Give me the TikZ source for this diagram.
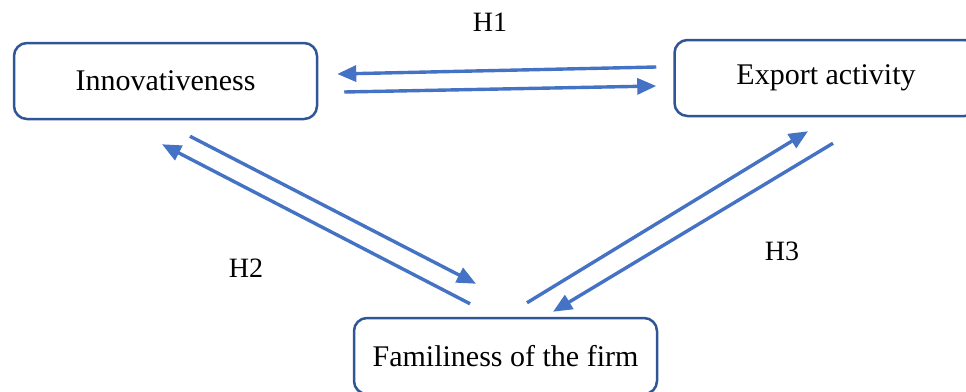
\documentclass[tikz,border=0pt]{standalone}
\usepackage{fontspec}
\setmainfont{Liberation Serif}
\usetikzlibrary{arrows.meta}
\definecolor{boxblue}{HTML}{2F5597}
\definecolor{arrowblue}{HTML}{4472C4}
\begin{document}
\begin{tikzpicture}[x=1pt,y=-1pt,
    box/.style={draw=boxblue,line width=2.5pt,rounded corners=13pt,
      minimum width=303pt,minimum height=76pt,font=\fontsize{30}{32}\selectfont},
    hyp/.style={font=\fontsize{28}{30}\selectfont},
    link/.style={draw=arrowblue,line width=3.4pt,-{Triangle[length=19pt,width=16pt]}}]
      \useasboundingbox (0,0) rectangle (966,391);
      \draw
        (165.5,81) node[box] (inno){Innovativeness}
        (826,78) node[box] (exp){Export activity}
        (505.5,356) node[box] (fam){Familiness of the firm}
        (490,22) node[hyp] (h1){H1}
        (246,268) node[hyp] (h2){H2}
        (782,251) node[hyp] (h3){H3};
      \begin{scope}[link]
        \draw ([shift={(-17,-11)}]exp.west) to ([shift={(19,-7)}]inno.east);
        \draw ([shift={(26,11)}]inno.east) to ([shift={(-17,8)}]exp.west);
        \draw ([shift={(24.5,16)}]inno.south) to ([shift={(-29.5,-33)}]fam.north);
        \draw ([shift={(-35.5,-13)}]fam.north) to ([shift={(-3.5,24)}]inno.south);
        \draw ([shift={(21.5,-14)}]fam.north) to ([shift={(-18,14)}]exp.south);
        \draw ([shift={(7,26)}]exp.south) to ([shift={(47.5,-5)}]fam.north);
      \end{scope}
    \end{tikzpicture}
\end{document}
